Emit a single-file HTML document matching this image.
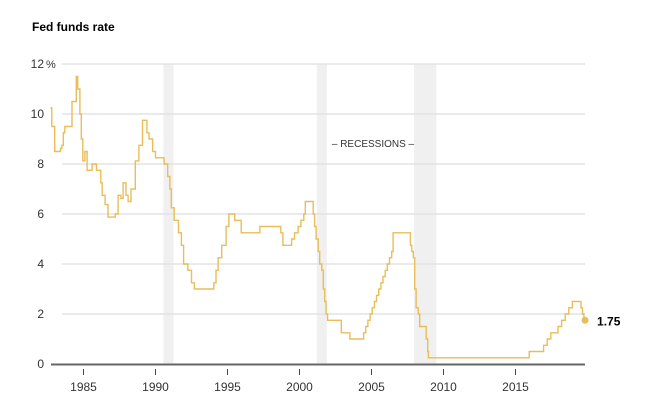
<!DOCTYPE html>
<html><head><meta charset="utf-8">
<style>
html,body{margin:0;padding:0;background:#fff;}
svg{display:block;font-family:"Liberation Sans",Arial,sans-serif;}
</style></head>
<body>
<svg id="chart" width="646" height="403" viewBox="0 0 646 403">
<text x="32" y="31" font-size="12" font-weight="bold" fill="#000">Fed funds rate</text>
<g id="recessions"></g>
<g id="grid"></g>
<text x="373" y="147" font-size="10" fill="#333" text-anchor="middle">– RECESSIONS –</text>
<g id="xaxis"></g>
<g id="series"></g>
</svg>
<script>
const yTicks = [0, 2, 4, 6, 8, 10, 12];
const xTicks = [1985, 1990, 1995, 2000, 2005, 2010, 2015];
const recessionStarts = [1990.55, 2001.2, 2007.95];
const recessionEnds = [1991.25, 2001.9, 2009.5];
const years = [1982.7,1982.8,1983.0,1983.4,1983.5,1983.6,1983.7,1984.2,1984.5,1984.6,1984.75,1984.85,1984.95,1985.1,1985.25,1985.4,1985.6,1985.9,1986.2,1986.3,1986.5,1986.7,1987.2,1987.4,1987.6,1987.75,1987.95,1988.1,1988.3,1988.6,1988.85,1989.1,1989.4,1989.55,1989.8,1990.0,1990.6,1990.85,1991.0,1991.1,1991.3,1991.6,1991.8,1991.95,1992.25,1992.5,1992.7,1994.05,1994.2,1994.35,1994.6,1994.9,1995.1,1995.5,1995.95,1997.25,1998.7,1998.85,1999.45,1999.65,1999.9,2000.1,2000.3,2000.4,2000.95,2001.05,2001.15,2001.3,2001.4,2001.55,2001.65,2001.75,2001.85,2001.95,2002.9,2003.5,2004.45,2004.6,2004.75,2004.9,2005.05,2005.2,2005.35,2005.5,2005.65,2005.8,2005.95,2006.1,2006.25,2006.4,2006.5,2007.7,2007.8,2007.9,2008.0,2008.1,2008.25,2008.35,2008.8,2008.9,2008.95,2015.95,2016.95,2017.2,2017.45,2017.95,2018.2,2018.45,2018.7,2018.95,2019.55,2019.65,2019.75,2019.83];
const rates = [10.25,9.5,8.5,8.625,8.75,9.25,9.5,10.5,11.5,11.0,10.0,9.0,8.125,8.5,7.75,7.75,8.0,7.75,7.25,6.75,6.375,5.875,6.0,6.75,6.625,7.25,6.75,6.5,7.0,8.125,8.75,9.75,9.25,9.0,8.5,8.25,8.0,7.5,7.0,6.25,5.75,5.25,4.75,4.0,3.75,3.25,3.0,3.25,3.75,4.25,4.75,5.5,6.0,5.75,5.25,5.5,5.25,4.75,5.0,5.25,5.5,5.75,6.0,6.5,6.0,5.5,5.0,4.5,4.0,3.75,3.0,2.5,2.0,1.75,1.25,1.0,1.25,1.5,1.75,2.0,2.25,2.5,2.75,3.0,3.25,3.5,3.75,4.0,4.25,4.5,5.25,4.75,4.5,4.25,3.0,2.25,2.0,1.5,1.0,0.5,0.25,0.5,0.75,1.0,1.25,1.5,1.75,2.0,2.25,2.5,2.25,2.0,1.75,1.75];
const lastLabel = "1.75";

const NS = "http://www.w3.org/2000/svg";
function xS(v){ return 83.5 + (v - 1985) * 14.4; }
function yS(v){ return 364 - v * 25; }
function mk(tag, attrs, parent){ const e = document.createElementNS(NS, tag); for (const k in attrs) e.setAttribute(k, attrs[k]); parent.appendChild(e); return e; }

const rec = document.getElementById('recessions');
recessionStarts.forEach((s, i) => {
  const r = mk('rect', {x: xS(s), y: 64, width: xS(recessionEnds[i]) - xS(s), height: 300, fill: '#f0f0f0'}, rec);
  
  
});

const grid = document.getElementById('grid');
yTicks.forEach(t => {
  if (t > 0) {
    const l = mk('line', {x1: 62, x2: 585, y1: yS(t), y2: yS(t), stroke: '#e3e3e3', 'stroke-width': 1.5}, grid);
    
    
  }
  const tx = mk('text', {x: 44, y: yS(t) + 4, 'font-size': 12, fill: '#333', 'text-anchor': 'end'}, grid);
  tx.textContent = String(t);
  
  
  if (t === 12) {
    const p = mk('text', {x: 46, y: yS(t) + 4, 'font-size': 11, fill: '#333'}, grid);
    p.textContent = '%';
    
    
  }
});

const xa = document.getElementById('xaxis');
const base = mk('line', {x1: 51, x2: 585, y1: 364.5, y2: 364.5, stroke: '#666', 'stroke-width': 2}, xa);


xTicks.forEach(t => {
  const tk = mk('line', {x1: xS(t), x2: xS(t), y1: 369, y2: 375, stroke: '#444', 'stroke-width': 1}, xa);
  
  
  const tx = mk('text', {x: xS(t), y: 391, 'font-size': 12, fill: '#333', 'text-anchor': 'middle'}, xa);
  tx.textContent = String(t);
  
  
});

const ser = document.getElementById('series');
let d = '';
for (let i = 0; i < years.length; i++) {
  const x = xS(years[i]).toFixed(1), y = yS(rates[i]).toFixed(1);
  if (i === 0) d += 'M' + x + ',' + y;
  else d += 'H' + x + 'V' + y;
}
d += 'H' + xS(years[years.length - 1]).toFixed(1);
const path = mk('path', {d: d, fill: 'none', stroke: '#e8bd5a', 'stroke-width': 1.4}, ser);


const lx = xS(years[years.length - 1]), ly = yS(rates[rates.length - 1]);
const dot = mk('circle', {cx: lx, cy: ly, r: 3.5, fill: '#e8bd5a'}, ser);


const lab = mk('text', {x: lx + 12, y: ly + 5, 'font-size': 12, 'font-weight': 'bold', fill: '#000'}, ser);
lab.textContent = lastLabel;


</script>
</body></html>
